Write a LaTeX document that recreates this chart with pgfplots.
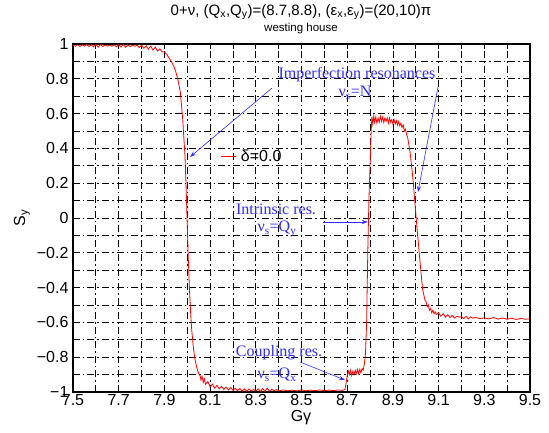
\documentclass[border=0pt]{standalone}
\usepackage{fontspec}
\setmainfont{Liberation Sans}
\newfontfamily\tmsfont{Liberation Serif}
\usepackage{pgfplots}
\pgfplotsset{compat=1.18}
\usetikzlibrary{arrows.meta}
\definecolor{annblue}{RGB}{45,45,255}
\begin{document}
\begin{tikzpicture}
\path[use as bounding box] (-73pt,-41pt) rectangle (476pt,392pt);
\begin{axis}[
  at={(0pt,0pt)}, anchor=south west,
  width=457pt, height=348pt, scale only axis,
  xmin=7.5, xmax=9.5, ymin=-1, ymax=1,
  xtick={7.5,7.7,7.9,8.1,8.3,8.5,8.7,8.9,9.1,9.3,9.5},
  xticklabels={7.5,7.7,7.9,8.1,8.3,8.5,8.7,8.9,9.1,9.3,9.5},
  minor xtick={7.6,7.8,8.0,8.2,8.4,8.6,8.8,9.0,9.2,9.4},
  ytick={-1,-0.8,-0.6,-0.4,-0.2,0,0.2,0.4,0.6,0.8,1},
  yticklabels={−1,−0.8,−0.6,−0.4,−0.2,0,0.2,0.4,0.6,0.8,1},
  minor ytick={-0.9,-0.7,-0.5,-0.3,-0.1,0.1,0.3,0.5,0.7,0.9},
  grid=both,
  major grid style={black, line width=0.75pt, dash pattern=on 7pt off 3pt on 1.5pt off 3pt},
  minor grid style={black, line width=0.75pt, dash pattern=on 7pt off 3pt on 1.5pt off 3pt},
  tick align=inside, major tick length=5pt, minor tick length=5pt,
  tick style={black, line width=0.7pt},
  axis line style={line width=1.1pt},
  ticklabel style={font=\fontsize{16}{16}\selectfont},
  /pgf/number format/assume math mode=true,
  xticklabel style={yshift=1.5pt},
  yticklabel style={xshift=-1pt},
  legend style={at={(axis cs:8.143,0.356)}, anchor=west, draw=none, fill=none, inner sep=0pt,
    column sep=3pt, font=\fontsize{16}{16}\selectfont},
  legend image code/.code={\draw[#1] (0pt,0pt) -- (15pt,0pt);},
]
\addplot[red, line width=0.8pt] coordinates {
(7.50,0.993) (7.51,0.987) (7.52,0.996) (7.53,0.986) (7.54,0.995) (7.55,0.988)
(7.56,0.997) (7.57,0.985) (7.58,0.996) (7.59,0.983) (7.60,0.999) (7.61,0.982)
(7.62,0.997) (7.63,0.986) (7.64,0.994) (7.65,0.988) (7.66,0.993) (7.67,0.987)
(7.68,0.995) (7.69,0.984) (7.70,0.997) (7.71,0.982) (7.72,0.998) (7.73,0.981)
(7.74,0.996) (7.75,0.985) (7.76,0.993) (7.77,0.987) (7.78,0.992) (7.79,0.980)
(7.80,0.993) (7.81,0.975) (7.82,0.990) (7.83,0.970) (7.84,0.988) (7.85,0.965)
(7.86,0.982) (7.87,0.960) (7.88,0.972) (7.89,0.955) (7.90,0.955)
(7.91,0.94) (7.92,0.92) (7.93,0.90) (7.94,0.875) (7.95,0.84) (7.96,0.79)
(7.97,0.72) (7.98,0.57) (7.99,0.36) (7.995,0.18) (8.00,-0.04) (8.005,-0.25)
(8.01,-0.42) (8.015,-0.55) (8.02,-0.65) (8.025,-0.72) (8.03,-0.78) (8.035,-0.82)
(8.04,-0.85) (8.045,-0.875) (8.05,-0.895) (8.056,-0.905)
(8.06,-0.93) (8.065,-0.91) (8.07,-0.945) (8.075,-0.925) (8.08,-0.955) (8.09,-0.94)
(8.10,-0.97) (8.11,-0.955) (8.12,-0.978) (8.13,-0.962) (8.14,-0.982) (8.15,-0.968)
(8.16,-0.985) (8.17,-0.972) (8.18,-0.988) (8.19,-0.975) (8.20,-0.99) (8.21,-0.978)
(8.22,-0.992) (8.23,-0.98) (8.24,-0.995) (8.25,-0.982) (8.26,-0.996) (8.27,-0.983)
(8.28,-0.994) (8.29,-0.985) (8.30,-0.995) (8.31,-0.982) (8.32,-0.996) (8.33,-0.98)
(8.34,-0.997) (8.35,-0.978) (8.36,-0.995) (8.37,-0.984) (8.38,-0.993) (8.39,-0.986)
(8.40,-0.994) (8.42,-0.988) (8.44,-0.993) (8.46,-0.989) (8.48,-0.994) (8.50,-0.988)
(8.52,-0.993) (8.54,-0.989) (8.56,-0.992) (8.58,-0.988) (8.60,-0.993) (8.62,-0.989)
(8.64,-0.992) (8.66,-0.988) (8.68,-0.991) (8.69,-0.985) (8.695,-0.95)
(8.70,-0.905) (8.705,-0.88) (8.71,-0.9) (8.715,-0.875) (8.72,-0.905) (8.725,-0.88)
(8.73,-0.9) (8.735,-0.875) (8.74,-0.895) (8.745,-0.87) (8.75,-0.895) (8.755,-0.87)
(8.76,-0.89) (8.765,-0.865) (8.77,-0.875) (8.775,-0.84) (8.78,-0.78) (8.785,-0.6)
(8.79,-0.2) (8.795,0.1) (8.80,0.3) (8.805,0.5) (8.808,0.58) (8.812,0.54)
(8.816,0.585) (8.82,0.55) (8.825,0.58) (8.83,0.545) (8.835,0.575) (8.84,0.55)
(8.845,0.585) (8.85,0.555) (8.855,0.58) (8.86,0.55) (8.865,0.575) (8.87,0.555)
(8.875,0.575) (8.88,0.545) (8.885,0.575) (8.89,0.55) (8.895,0.565) (8.90,0.54)
(8.905,0.565) (8.91,0.54) (8.915,0.56) (8.92,0.535) (8.925,0.555) (8.93,0.53)
(8.935,0.545) (8.94,0.52) (8.945,0.535) (8.95,0.5) (8.955,0.51) (8.96,0.48)
(8.965,0.46) (8.97,0.42) (8.975,0.38) (8.98,0.32) (8.985,0.26) (8.99,0.19)
(8.995,0.11) (9.00,0.03) (9.005,-0.05) (9.01,-0.12) (9.015,-0.2) (9.02,-0.27)
(9.025,-0.34) (9.03,-0.41) (9.035,-0.44) (9.04,-0.47) (9.045,-0.48) (9.05,-0.51)
(9.055,-0.50) (9.06,-0.53) (9.065,-0.52) (9.07,-0.545) (9.075,-0.53) (9.08,-0.55)
(9.085,-0.54) (9.09,-0.555) (9.10,-0.545) (9.11,-0.565) (9.12,-0.55) (9.13,-0.57)
(9.14,-0.556) (9.15,-0.572) (9.16,-0.56) (9.17,-0.575) (9.18,-0.565) (9.19,-0.57)
(9.20,-0.568) (9.21,-0.578) (9.22,-0.565) (9.23,-0.58) (9.24,-0.568) (9.25,-0.576)
(9.26,-0.571) (9.28,-0.578) (9.30,-0.574) (9.32,-0.58) (9.34,-0.572) (9.36,-0.581)
(9.38,-0.575) (9.40,-0.582) (9.42,-0.576) (9.44,-0.583) (9.46,-0.577) (9.48,-0.582)
(9.50,-0.579)
};
\addlegendentry{δ=0.0}
\end{axis}
% arrows (axis geometry: x pt = (x-7.5)*228.5, y pt = (y+1)*174)
\begin{scope}[annblue, line width=0.6pt, -{Stealth[length=6pt,width=4pt]}]
\draw (199pt,304pt) -- (117pt,235pt);
\draw (365pt,305pt) -- (345pt,200pt);
\draw (250pt,170pt) -- (295pt,170pt);
\draw (227pt,30pt) -- (272pt,12pt);
\end{scope}
% titles and labels
\node[font=\fontsize{15}{15}\selectfont] at (228pt,380pt) {0+ν, (Q\textsubscript{x},Q\textsubscript{y})=(8.7,8.8), (ε\textsubscript{x},ε\textsubscript{y})=(20,10)π};
\node[font=\fontsize{11.5}{11.5}\selectfont] at (228pt,363pt) {westing house};
\node[font=\fontsize{16}{16}\selectfont] at (228pt,-26pt) {Gγ};
\node[font=\fontsize{16}{16}\selectfont, rotate=90] at (-51pt,174pt) {S\textsubscript{y}};
% annotations
\begin{scope}[annblue, font=\tmsfont\fontsize{16}{16}\selectfont]
\node at (284pt,317pt) {Imperfection resonances};
\node at (282pt,299pt) {ν\textsubscript{s}=N};
\node at (203pt,183pt) {Intrinsic res.};
\node at (204pt,163pt) {ν\textsubscript{s}=Q\textsubscript{y}};
\node at (206pt,39pt) {Coupling res.};
\node at (204pt,17pt) {ν\textsubscript{s}=Q\textsubscript{x}};
\end{scope}
\end{tikzpicture}
\end{document}
